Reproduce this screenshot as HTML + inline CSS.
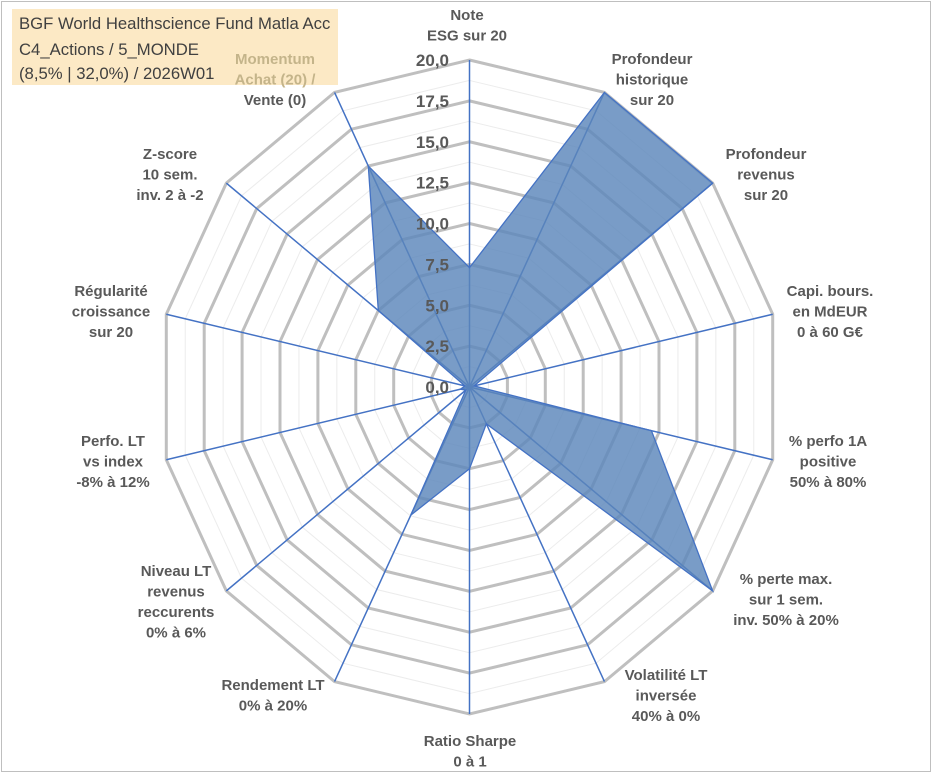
<!DOCTYPE html>
<html><head><meta charset="utf-8"><style>
body{margin:0;background:#fff;}
#wrap{position:relative;width:933px;height:776px;overflow:hidden;font-family:"Liberation Sans",sans-serif;}
svg text{font-family:"Liberation Sans",sans-serif;}
</style></head><body>
<div id="wrap">
<svg id="chart" width="933" height="776">
<rect x="1.5" y="1.5" width="929" height="770" fill="#fff" stroke="#bfbfbf"/>
<rect x="12" y="9" width="326" height="76" fill="#fce9c5"/>
<text x="19" y="29" font-size="16.7" fill="#404040">BGF World Healthscience Fund Matla Acc</text>
<text x="19" y="55" font-size="16.7" fill="#404040">C4_Actions / 5_MONDE</text>
<text x="19" y="79" font-size="16.7" fill="#404040">(8,5% | 32,0%) / 2026W01</text>
<g id="grid"></g><g id="spokes"></g><g id="series"></g><g id="ticks"></g><g id="labels"></g>
</svg>
</div>
<script>
const axisLabels=[
 ["Note","ESG sur 20"],
 ["Profondeur","historique","sur 20"],
 ["Profondeur","revenus","sur 20"],
 ["Capi. bours.","en MdEUR","0 à 60 G€"],
 ["% perfo 1A","positive","50% à 80%"],
 ["% perte max.","sur 1 sem.","inv. 50% à 20%"],
 ["Volatilité LT","inversée","40% à 0%"],
 ["Ratio Sharpe","0 à 1"],
 ["Rendement LT","0% à 20%"],
 ["Niveau LT","revenus","reccurents","0% à 6%"],
 ["Perfo. LT","vs index","-8% à 12%"],
 ["Régularité","croissance","sur 20"],
 ["Z-score","10 sem.","inv. 2 à -2"],
 ["Momentum","Achat (20) /","Vente (0)"]
];
const values=[7.3,20,20,0.3,12,20,2.5,5,8.7,0.3,0.6,0.3,7.5,15];
const tickLabels=["0,0","2,5","5,0","7,5","10,0","12,5","15,0","17,5","20,0"];
const maxVal=20;
const labelPos=[[467,14],[652,58],[766,153],[830,290],[828,440],[786,578],[666,674],[470,740],[273,684],[176,570],[113,440],[111,290],[170,153],[275,58]];

const cx=469.5,cy=387,Rx=311,Ry=327,N=axisLabels.length;
const NS="http://www.w3.org/2000/svg";
function pt(i,v){const a=2*Math.PI*i/N;return [cx+Rx*(v/maxVal)*Math.sin(a),cy-Ry*(v/maxVal)*Math.cos(a)];}
function mk(tag,attrs,parent){const e=document.createElementNS(NS,tag);for(const k in attrs)e.setAttribute(k,attrs[k]);parent.appendChild(e);return e;}
const grid=document.getElementById('grid');
for(let s=1;s<=16;s++){
 const v=s*1.25;const pts=[];for(let i=0;i<N;i++)pts.push(pt(i,v).join(','));
 const major=s%2===0;
 const p=mk('polygon',{points:pts.join(' '),fill:'none',stroke:major?'#bfbfbf':'#ececec','stroke-width':major?3:1},grid);
 
 
}
const spokes=document.getElementById('spokes');
for(let i=0;i<N;i++){
 const [x,y]=pt(i,maxVal);
 const l=mk('line',{x1:cx,y1:cy,x2:x,y2:y,stroke:'#4472c4','stroke-width':1.5},spokes);
 
 
}
const series=document.getElementById('series');
const sp=values.map((v,i)=>pt(i,v).join(',')).join(' ');
const poly=mk('polygon',{points:sp,fill:'#5b86bb','fill-opacity':0.82,stroke:'#4472c4','stroke-width':1.3},series);


const ticks=document.getElementById('ticks');
tickLabels.forEach((t,k)=>{
 const y=cy-Ry*(k*2.5/maxVal);
 const e=mk('text',{x:449,y:y+6,'text-anchor':'end','font-size':17,'font-weight':'bold',fill:'#595959'},ticks);
 e.textContent=t;
 
 
});
const labels=document.getElementById('labels');
axisLabels.forEach((lines,i)=>{
 const [x,y]=labelPos[i];
 const g=mk('g',{},labels);
 
 
 lines.forEach((ln,j)=>{
  const col=(i===N-1&&j<2)?'#c4b48a':'#595959';
  const e=mk('text',{x:x,y:y+j*20.5+6,'text-anchor':'middle','font-size':15,'font-weight':'bold',fill:col},g);
  e.textContent=ln;
 });
});
</script>
</body></html>
